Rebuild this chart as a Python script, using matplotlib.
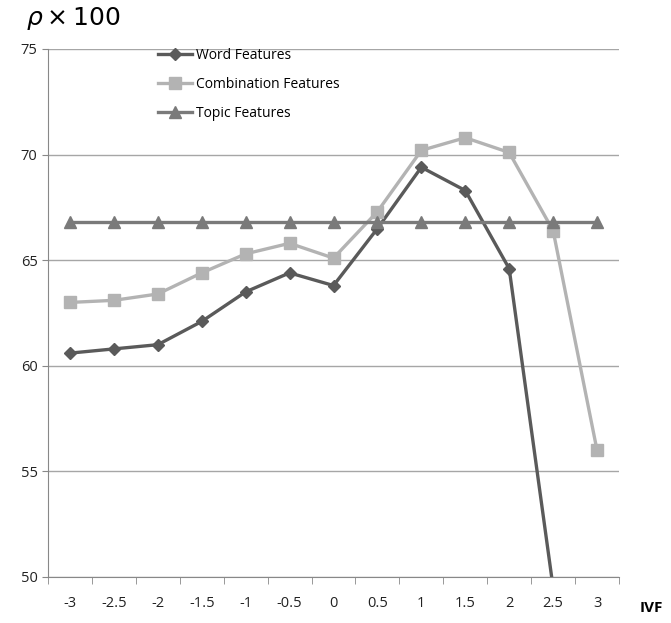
import numpy as np
import matplotlib.pyplot as plt

plt.rcParams['font.family'] = ['Open Sans', 'DejaVu Sans']

ivf = ['-3', '-2.5', '-2', '-1.5', '-1', '-0.5', '0', '0.5', '1', '1.5', '2', '2.5', '3']
word = [60.6, 60.8, 61.0, 62.1, 63.5, 64.4, 63.8, 66.5, 69.4, 68.3, 64.6, 49.5, np.nan]
combination = [63.0, 63.1, 63.4, 64.4, 65.3, 65.8, 65.1, 67.3, 70.2, 70.8, 70.1, 66.4, 56.0]
topic = [66.8] * 13

fig = plt.figure(figsize=(6.71, 6.23), dpi=100)
ax = fig.add_axes([48 / 671, 46 / 623, 571 / 671, 528 / 623])

x = np.arange(len(ivf))
ax.plot(x, word, color='#5a5a5a', lw=2.4, marker='D', ms=6.5, label='Word Features')
ax.plot(x, combination, color='#b3b3b3', lw=2.4, marker='s', ms=8.5, label='Combination Features')
ax.plot(x, topic, color='#7a7a7a', lw=2.4, marker='^', ms=8.5, label='Topic Features')

ax.set_xlim(-0.5, len(ivf) - 0.5)
ax.set_ylim(50, 75)
ax.set_yticks([50, 55, 60, 65, 70, 75])
ax.set_xticks(x)
ax.set_xticklabels(ivf)
ax.set_xticks(np.arange(-0.5, len(ivf)), minor=True)
ax.tick_params(axis='x', which='major', length=0, pad=14, labelsize=10.5, colors='#222222')
ax.tick_params(axis='x', which='minor', length=5, color='#888888')
ax.tick_params(axis='y', length=4, color='#888888', labelsize=10.5, colors='#222222')
ax.yaxis.grid(True, color='#a6a6a6', lw=1)
ax.set_axisbelow(True)

for s in ['top', 'right']:
    ax.spines[s].set_visible(False)
for s in ['left', 'bottom']:
    ax.spines[s].set_color('#888888')

ax.legend(loc='upper left', bbox_to_anchor=(0.17, 1.025), frameon=False,
          fontsize=10, labelspacing=1.0, handlelength=2.5, handletextpad=0.3)

fig.text(26 / 671, 1 - 18 / 623, r'$\rho\times100$', fontsize=18, va='center', ha='left')
fig.text(640 / 671, 1 - 608 / 623, 'IVF', fontsize=11, fontweight='bold', va='center', ha='left')

fig.savefig('out.png', dpi=100)
